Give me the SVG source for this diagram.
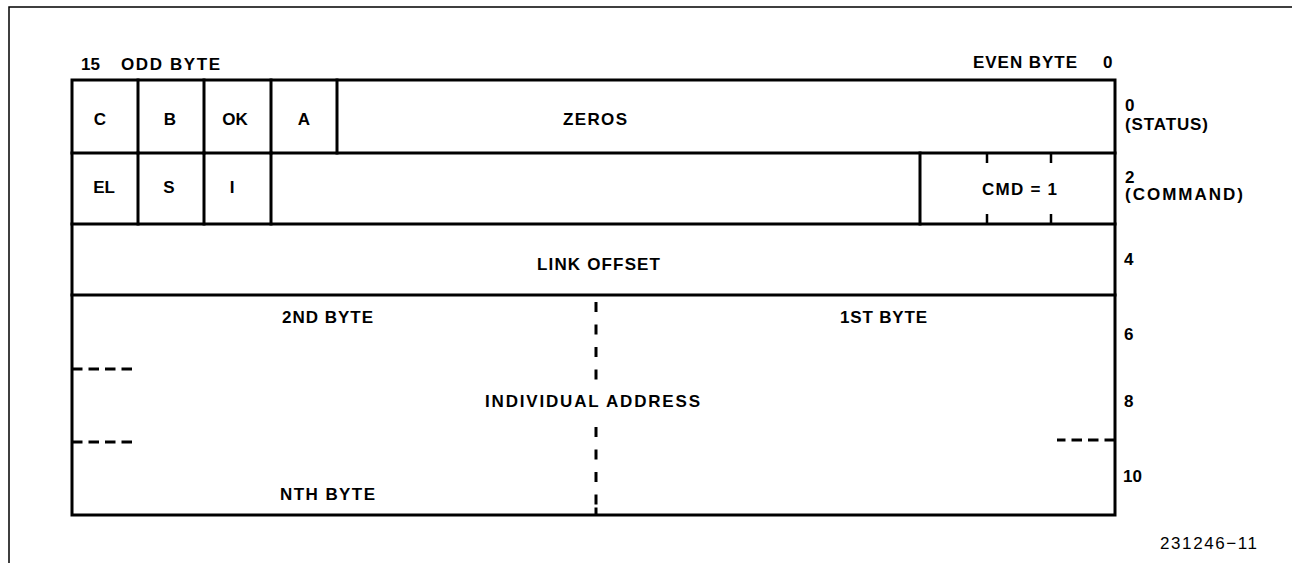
<svg xmlns="http://www.w3.org/2000/svg" width="1292" height="563" viewBox="0 0 1292 563">
  <style>
    .t { font-family: "Liberation Sans", Arial, sans-serif; font-weight: bold; font-size: 17px; fill: #000; }
    .c { text-anchor: middle; }
    .n { font-family: "Liberation Sans", Arial, sans-serif; font-size: 17px; fill: #000; }
    .ln { stroke: #000; stroke-width: 3; fill: none; stroke-linecap: square; }
    .tk { stroke: #000; stroke-width: 2.5; fill: none; }
    .dv { stroke: #000; stroke-width: 3; fill: none; stroke-dasharray: 10 12.5; }
    .dh { stroke: #000; stroke-width: 3; fill: none; stroke-dasharray: 10.5 6; }
    .fr { stroke: #000; stroke-width: 1.5; fill: none; }
  </style>
  <rect width="1292" height="563" fill="#fff"/>
  <path class="fr" d="M9 563 V7 H1292"/>

  <g id="header">
    <text class="t" x="81" y="70">15</text>
    <text class="t" x="121" y="70" textLength="99">ODD BYTE</text>
    <text class="t" x="973" y="68" textLength="104">EVEN BYTE</text>
    <text class="t" x="1103" y="68">0</text>
  </g>

  <g id="frame">
    <rect class="ln" x="72" y="80" width="1043" height="435"/>
    <path class="ln" d="M72 153 H1115 M72 224 H1115 M72 295 H1115"/>
  </g>

  <g id="status-word">
    <path class="ln" d="M138 80 V153 M204 80 V153 M271 80 V153 M337 80 V153"/>
    <text class="t c" x="100" y="125">C</text>
    <text class="t c" x="170" y="125">B</text>
    <text class="t c" x="235" y="125">OK</text>
    <text class="t c" x="304" y="125">A</text>
    <text class="t" x="563" y="125" textLength="64">ZEROS</text>
  </g>

  <g id="command-word">
    <path class="ln" d="M138 153 V224 M204 153 V224 M271 153 V224 M920 153 V224"/>
    <path class="tk" d="M987 153 V163 M1051 153 V163 M987 214 V224 M1051 214 V224"/>
    <text class="t c" x="104" y="193">EL</text>
    <text class="t c" x="169" y="193">S</text>
    <text class="t c" x="232" y="193">I</text>
    <text class="t" x="982" y="195" textLength="75">CMD = 1</text>
  </g>

  <g id="link-offset">
    <text class="t" x="537" y="270" textLength="123">LINK OFFSET</text>
  </g>

  <g id="individual-address">
    <text class="t" x="282" y="323" textLength="91">2ND BYTE</text>
    <text class="t" x="840" y="323" textLength="87">1ST BYTE</text>
    <text class="t" x="485" y="407" textLength="215">INDIVIDUAL ADDRESS</text>
    <text class="t" x="280" y="500" textLength="95">NTH BYTE</text>
  </g>

  <g id="connectors">
    <path class="dv" d="M596 302 V382"/>
    <path class="dv" d="M596 427 V505"/>
    <path class="ln" d="M596 509 V514" stroke-linecap="butt"/>
    <path class="dh" d="M72 369 H132"/>
    <path class="dh" d="M72 442 H132"/>
    <path class="dh" d="M1115 440 H1057"/>
  </g>

  <g id="offsets">
    <text class="t" x="1125" y="111">0</text>
    <text class="t" x="1125" y="130" textLength="83">(STATUS)</text>
    <text class="t" x="1125" y="183">2</text>
    <text class="t" x="1125" y="200" textLength="118">(COMMAND)</text>
    <text class="t" x="1124" y="265">4</text>
    <text class="t" x="1124" y="340">6</text>
    <text class="t" x="1124" y="407">8</text>
    <text class="t" x="1123" y="482">10</text>
  </g>

  <text class="n" x="1160" y="549" textLength="97">231246−11</text>
</svg>
